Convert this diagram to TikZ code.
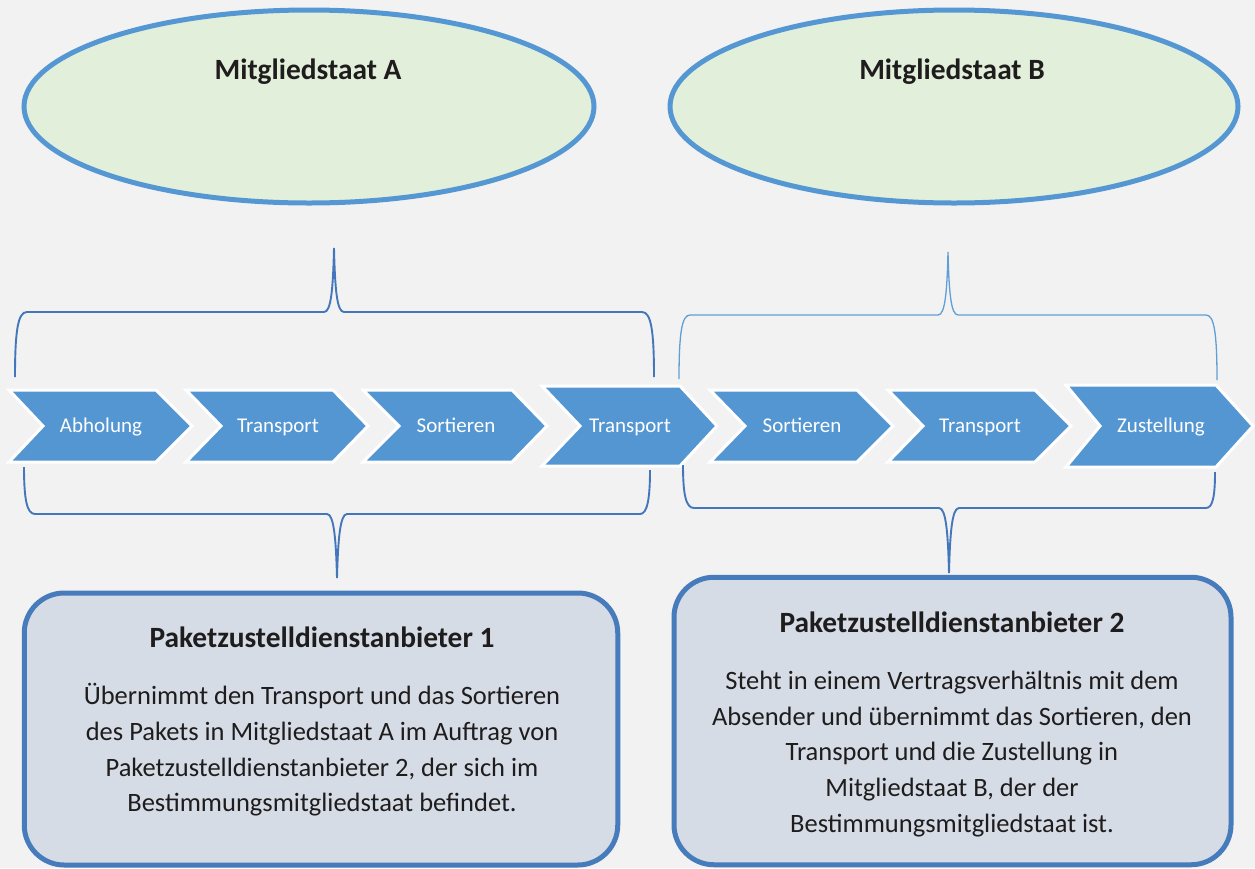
\documentclass[tikz,border=0pt]{standalone}
\usepackage{fontspec}
\setmainfont{Carlito}
\usetikzlibrary{shapes.geometric}

\definecolor{bgc}{RGB}{242,242,242}
\definecolor{chevblue}{RGB}{84,150,210}
\definecolor{ellfill}{RGB}{226,239,218}
\definecolor{ellline}{RGB}{85,151,211}
\definecolor{boxfill}{RGB}{214,220,229}
\definecolor{boxline}{RGB}{70,124,187}
\definecolor{bracedark}{RGB}{68,118,188}
\definecolor{bracelight}{RGB}{96,158,214}
\definecolor{ink}{RGB}{30,28,28}

\tikzset{
  country/.style={ellipse, draw=ellline, fill=ellfill, line width=5pt, inner sep=0pt},
  countrylabel/.style={anchor=base, text=ink, font=\fontsize{29.4}{34}\selectfont\bfseries, inner sep=0pt},
  chev/.style={fill=chevblue, draw=white, line width=3pt, line join=miter},
  chevlabel/.style={anchor=base, text=white, font=\fontsize{21}{24}\selectfont, inner sep=0pt},
  bracedk/.style={draw=bracedark, line width=1.9pt},
  bracelt/.style={draw=bracelight, line width=1.3pt},
  provider/.style={rectangle, rounded corners=40pt, draw=boxline, fill=boxfill, line width=5pt, inner sep=0pt},
  provtitle/.style={anchor=base, text=ink, font=\fontsize{29.4}{34}\selectfont\bfseries, inner sep=0pt},
  provtext/.style={anchor=center, text=ink, align=center, font=\fontsize{26.5}{35.7}\selectfont, inner sep=0pt}
}

\begin{document}
\begin{tikzpicture}[x=1pt,y=-1pt]
\fill[bgc] (0,0) rectangle (1255,868);
\useasboundingbox (0,0) rectangle (1255,868);

% member states
\node[country, minimum width=570pt, minimum height=193pt] (stateA) at (309,106.5) {};
\node[country, minimum width=568pt, minimum height=193pt] (stateB) at (954,106.5) {};
\node[countrylabel] (labelA) at (308,79) {Mitgliedstaat A};
\node[countrylabel] (labelB) at (952,79) {Mitgliedstaat B};

% process chevrons
\filldraw[chev] (9,390) -- (156,390) -- (192,426) -- (156,462) -- (9,462) -- (43,426) -- cycle;
\filldraw[chev] (186,390) -- (333,390) -- (368,426) -- (333,462) -- (186,462) -- (221,426) -- cycle;
\filldraw[chev] (363,390) -- (512,390) -- (547,426) -- (512,462) -- (363,462) -- (399,426) -- cycle;
\filldraw[chev] (542,386) -- (680,386) -- (717,426) -- (680,466) -- (542,466) -- (580,426) -- cycle;
\filldraw[chev] (710,390) -- (857,390) -- (893,426) -- (857,462) -- (710,462) -- (745,426) -- cycle;
\filldraw[chev] (888,390) -- (1035,390) -- (1071,426) -- (1035,462) -- (888,462) -- (923,426) -- cycle;
\filldraw[chev] (1066,385) -- (1216,385) -- (1253,426) -- (1216,467) -- (1066,467) -- (1100,426) -- cycle;

\node[chevlabel] (s1) at (101,432.5) {Abholung};
\node[chevlabel] (s2) at (278,432.5) {Transport};
\node[chevlabel] (s3) at (456,432.5) {Sortieren};
\node[chevlabel] (s4) at (630,432.5) {Transport};
\node[chevlabel] (s5) at (802,432.5) {Sortieren};
\node[chevlabel] (s6) at (980,432.5) {Transport};
\node[chevlabel] (s7) at (1161,432.5) {Zustellung};

% braces: tips
\coordinate (tipA) at (334,248);
\coordinate (tipB) at (948,252);
\coordinate (tipP1) at (337,578);
\coordinate (tipP2) at (949,573);

% upper braces
\draw[bracedk] (15,377) .. controls (15,330) and (18,312) .. (27,312) -- (324,312)
  .. controls (331,312) and (333,290) .. (tipA)
  .. controls (335,290) and (337,312) .. (344,312) -- (642,312)
  .. controls (651,312) and (654,330) .. (654,377);
\draw[bracelt] (679,379) .. controls (679,332) and (682,315) .. (690,315) -- (938,315)
  .. controls (945,315) and (947,293) .. (tipB)
  .. controls (949,293) and (951,315) .. (958,315) -- (1206,315)
  .. controls (1214,315) and (1217,332) .. (1217,380);

% lower braces
\draw[bracedk] (24,467) .. controls (24,500) and (27,514) .. (35,514) -- (327,514)
  .. controls (334,514) and (336,540) .. (tipP1)
  .. controls (338,540) and (340,514) .. (347,514) -- (640,514)
  .. controls (647,514) and (650,500) .. (650,470);
\draw[bracedk] (683,465) .. controls (683,495) and (686,508) .. (694,508) -- (939,508)
  .. controls (946,508) and (948,533) .. (tipP2)
  .. controls (950,533) and (952,508) .. (959,508) -- (1206,508)
  .. controls (1213,508) and (1215,495) .. (1215,472);

% service providers
\node[provider, minimum width=593.5pt, minimum height=272pt] (prov1) at (321,729) {};
\node[provider, minimum width=557pt, minimum height=287.5pt] (prov2) at (952.5,721) {};

\node[provtitle] (title1) at (322,647) {Paketzustelldienstanbieter 1};
\node[provtext] (text1) at (322,750) {Übernimmt den Transport und das Sortieren\\des Pakets in Mitgliedstaat A im Auftrag von\\Paketzustelldienstanbieter 2, der sich im\\Bestimmungsmitgliedstaat befindet.};

\node[provtitle] (title2) at (952,632) {Paketzustelldienstanbieter 2};
\node[provtext] (text2) at (952,754) {Steht in einem Vertragsverhältnis mit dem\\Absender und übernimmt das Sortieren, den\\Transport und die Zustellung in\\Mitgliedstaat B, der der\\Bestimmungsmitgliedstaat ist.};
\end{tikzpicture}
\end{document}
